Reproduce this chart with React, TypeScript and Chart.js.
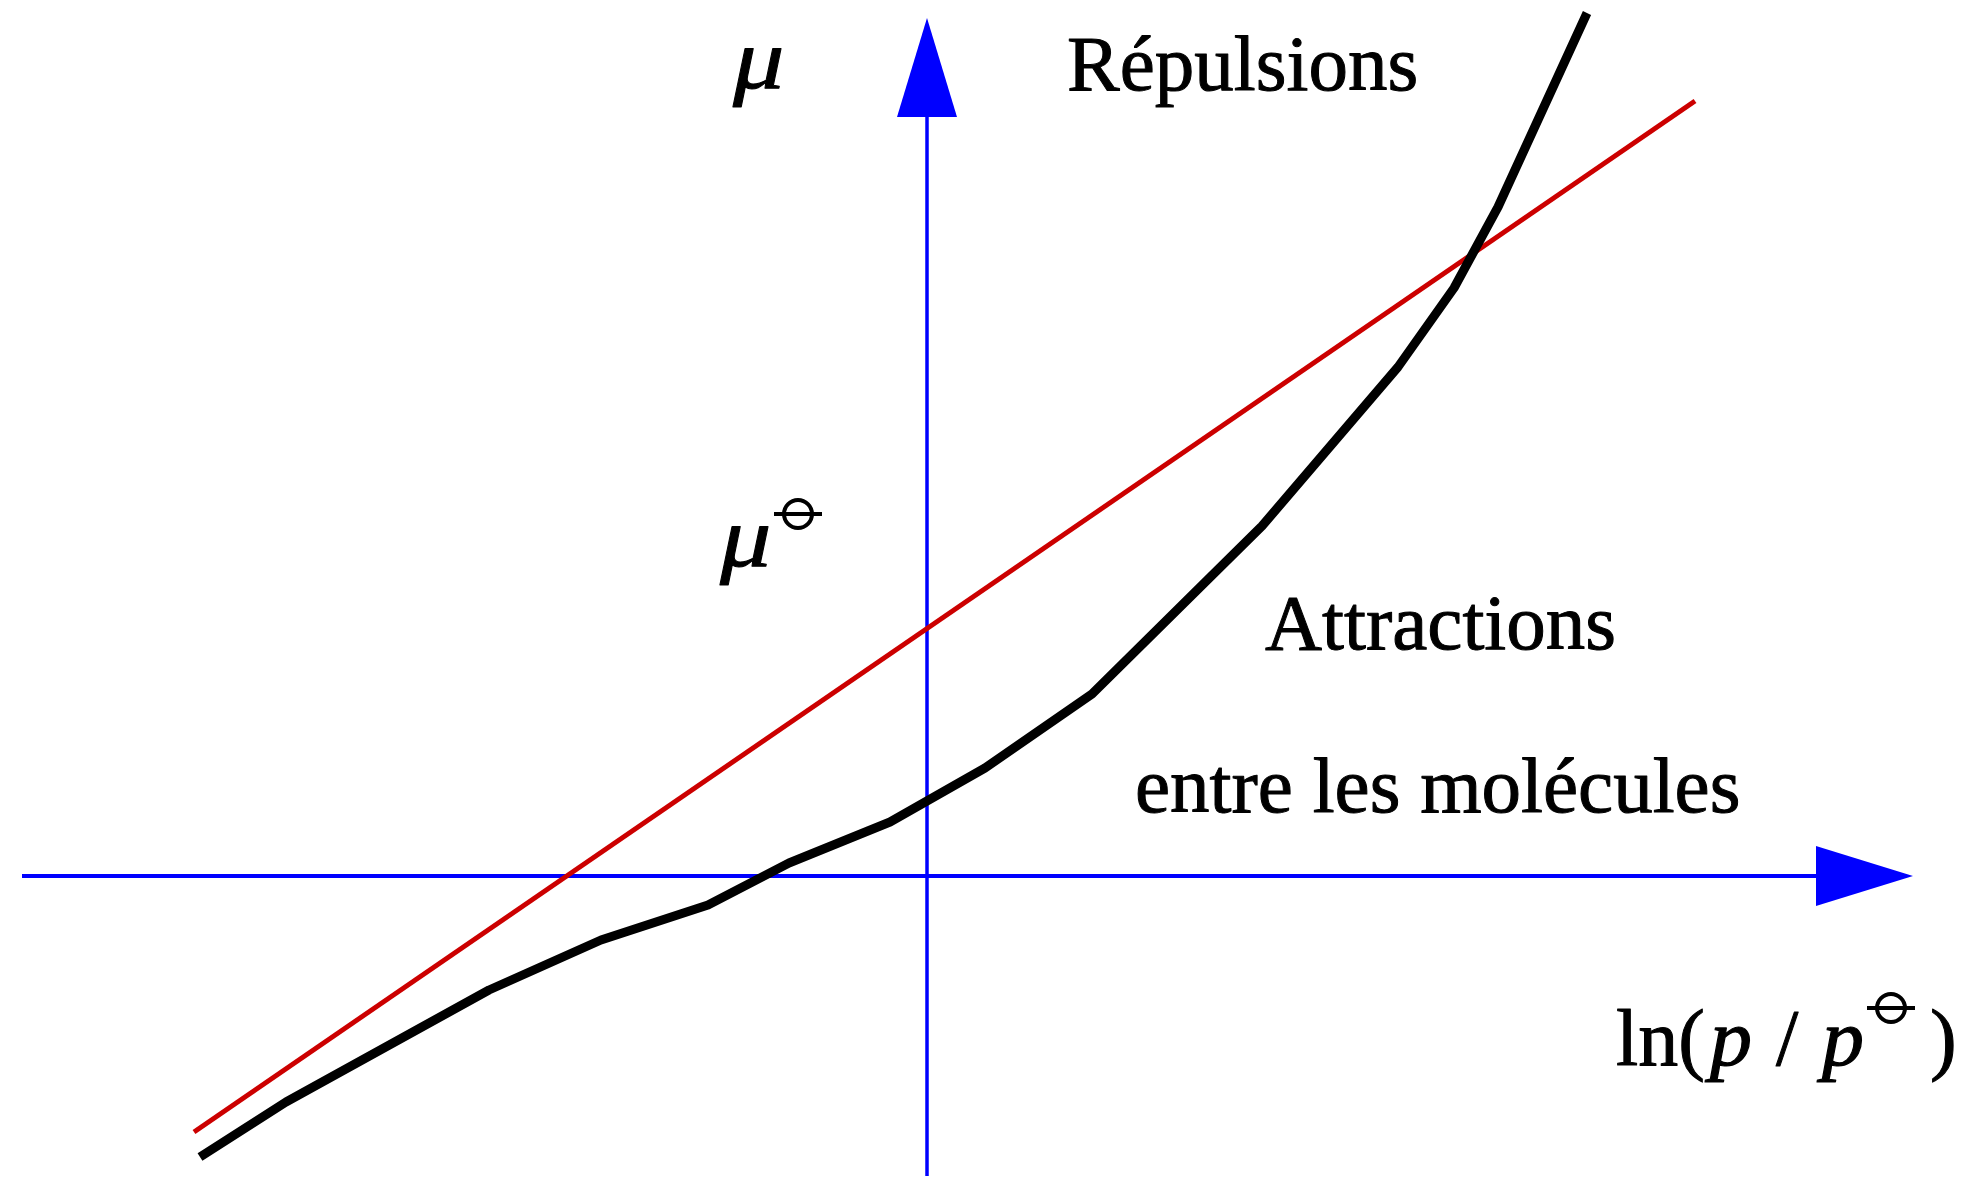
import React, { useEffect, useRef } from "react";
import { Chart, registerables } from "chart.js";

Chart.register(...registerables);

// Real-gas chemical potential versus ln(p/p°)
const curveX = [-7.27, -6.41, -4.38, -3.26, -2.19, -1.38, -0.37, 0.58, 1.65, 3.35, 4.71, 5.27, 5.71, 6.6];
const curveY = [-2.81, -2.26, -1.14, -0.64, -0.29, 0.13, 0.54, 1.08, 1.82, 3.5, 5.09, 5.88, 6.69, 8.63];

// Ideal gas: straight line μ = μ° + RT ln(p/p°)
const idealX = [-7.33, 7.68];
const idealY = [-2.56, 7.75];

// Axis extents (data units)
const xAxisFrom = -9.05;
const xAxisTo = 9.86;
const yAxisFrom = -3.0;
const yAxisTo = 8.58;

const W = 1964;
const H = 1178;
const X_MIN = -9.27;
const X_MAX = 10.37;
const Y_MIN = -3.02;
const Y_MAX = 8.76;

const SERIF = "'Liberation Serif', 'Times New Roman', serif";
const FONT = `79px ${SERIF}`;
const FONT_IT = `italic 80px ${SERIF}`;
const BLUE = "#0000ff";

function toPairs(xs: number[], ys: number[]) {
  return xs.map((x, i) => ({ x, y: ys[i] }));
}

// Text with a thin outline so the serif strokes read a little heavier
function heavyText(ctx: CanvasRenderingContext2D, text: string, x: number, y: number, sx = 1, sy = 1, weight = 1) {
  ctx.save();
  ctx.translate(x, y);
  ctx.scale(sx, sy);
  ctx.fillText(text, 0, 0);
  ctx.lineWidth = weight;
  ctx.strokeStyle = "#000";
  ctx.lineJoin = "round";
  ctx.strokeText(text, 0, 0);
  ctx.restore();
}

// Greek mu, drawn a little wider than the plain italic glyph
function drawMu(ctx: CanvasRenderingContext2D, x: number, y: number) {
  ctx.save();
  ctx.font = `italic 82px ${SERIF}`;
  heavyText(ctx, "μ", x, y, 1.25, 1.05, 0.9);
  ctx.restore();
}

// Standard-state symbol: small circle crossed by a horizontal bar
function drawStandard(ctx: CanvasRenderingContext2D, cx: number, cy: number) {
  ctx.save();
  ctx.strokeStyle = "#000";
  ctx.lineWidth = 4;
  ctx.beginPath();
  ctx.arc(cx, cy, 14, 0, Math.PI * 2);
  ctx.stroke();
  ctx.beginPath();
  ctx.moveTo(cx - 24, cy);
  ctx.lineTo(cx + 24, cy);
  ctx.stroke();
  ctx.restore();
}

const axesPlugin = {
  id: "arrowAxes",
  beforeDatasetsDraw(chart: any) {
    const { ctx, scales } = chart;
    const xs = scales.x;
    const ys = scales.y;
    const ox = xs.getPixelForValue(0);
    const oy = ys.getPixelForValue(0);
    const xEnd = xs.getPixelForValue(xAxisTo);
    const yEnd = ys.getPixelForValue(yAxisTo);
    ctx.save();
    ctx.strokeStyle = BLUE;
    ctx.fillStyle = BLUE;
    ctx.lineWidth = 4;
    // horizontal axis
    ctx.beginPath();
    ctx.moveTo(xs.getPixelForValue(xAxisFrom), oy);
    ctx.lineTo(xEnd - 90, oy);
    ctx.stroke();
    ctx.beginPath();
    ctx.moveTo(xEnd, oy);
    ctx.lineTo(xEnd - 97, oy - 30);
    ctx.lineTo(xEnd - 97, oy + 30);
    ctx.closePath();
    ctx.fill();
    // vertical axis
    ctx.lineWidth = 3.5;
    ctx.beginPath();
    ctx.moveTo(ox, ys.getPixelForValue(yAxisFrom));
    ctx.lineTo(ox, yEnd + 92);
    ctx.stroke();
    ctx.beginPath();
    ctx.moveTo(ox, yEnd);
    ctx.lineTo(ox - 30, yEnd + 99);
    ctx.lineTo(ox + 30, yEnd + 99);
    ctx.closePath();
    ctx.fill();
    ctx.restore();
  },
  afterDraw(chart: any) {
    const { ctx, scales } = chart;
    const px = (v: number) => scales.x.getPixelForValue(v);
    const py = (v: number) => scales.y.getPixelForValue(v);
    ctx.save();
    ctx.fillStyle = "#000";
    ctx.textBaseline = "alphabetic";
    ctx.textAlign = "left";

    // μ (ordinate label)
    drawMu(ctx, px(-1.94), py(7.88));

    // μ° on the ordinate
    const mx = px(-2.07);
    const my = py(3.1);
    drawMu(ctx, mx, my);
    drawStandard(ctx, mx + 78, my - 52);

    ctx.font = FONT;
    heavyText(ctx, "Répulsions", px(1.4), py(7.86));
    heavyText(ctx, "Attractions", px(3.38), py(2.27));
    heavyText(ctx, "entre les molécules", px(2.08), py(0.64));

    // ln(p / p°)
    const lx = px(6.89);
    const ly = py(-1.89);
    ctx.font = `80px ${SERIF}`;
    heavyText(ctx, "ln(", lx, ly);
    ctx.font = FONT_IT;
    heavyText(ctx, "p", lx + 94, ly, 1.05, 1, 1.2);
    ctx.font = `80px ${SERIF}`;
    heavyText(ctx, "/", lx + 160, ly);
    ctx.font = FONT_IT;
    heavyText(ctx, "p", lx + 206, ly, 1.05, 1, 1.2);
    drawStandard(ctx, lx + 275, ly - 57);
    ctx.font = `80px ${SERIF}`;
    heavyText(ctx, ")", lx + 314, ly);
    ctx.restore();
  },
};

export default function App() {
  const ref = useRef<HTMLCanvasElement>(null);

  useEffect(() => {
    if (!ref.current) return;
    const chart = new Chart(ref.current, {
      type: "line",
      data: {
        datasets: [
          {
            label: "gaz réel",
            data: toPairs(curveX, curveY),
            borderColor: "#000000",
            borderWidth: 9,
            borderJoinStyle: "round",
            borderCapStyle: "butt",
            pointRadius: 0,
            tension: 0,
            fill: false,
          },
          {
            label: "gaz parfait",
            data: toPairs(idealX, idealY),
            borderColor: "#cc0000",
            borderWidth: 5,
            pointRadius: 0,
            tension: 0,
            fill: false,
          },
        ],
      },
      options: {
        responsive: false,
        animation: false,
        layout: { padding: 0 },
        plugins: { legend: { display: false }, tooltip: { enabled: false } },
        scales: {
          x: { type: "linear", min: X_MIN, max: X_MAX, display: false },
          y: { type: "linear", min: Y_MIN, max: Y_MAX, display: false },
        },
      },
      plugins: [axesPlugin],
    });
    return () => chart.destroy();
  }, []);

  return (
    <div style={{ position: "fixed", left: 0, top: 0, width: W, height: H, background: "#fff" }}>
      <canvas ref={ref} width={W} height={H} style={{ width: W, height: H, display: "block" }} />
    </div>
  );
}
